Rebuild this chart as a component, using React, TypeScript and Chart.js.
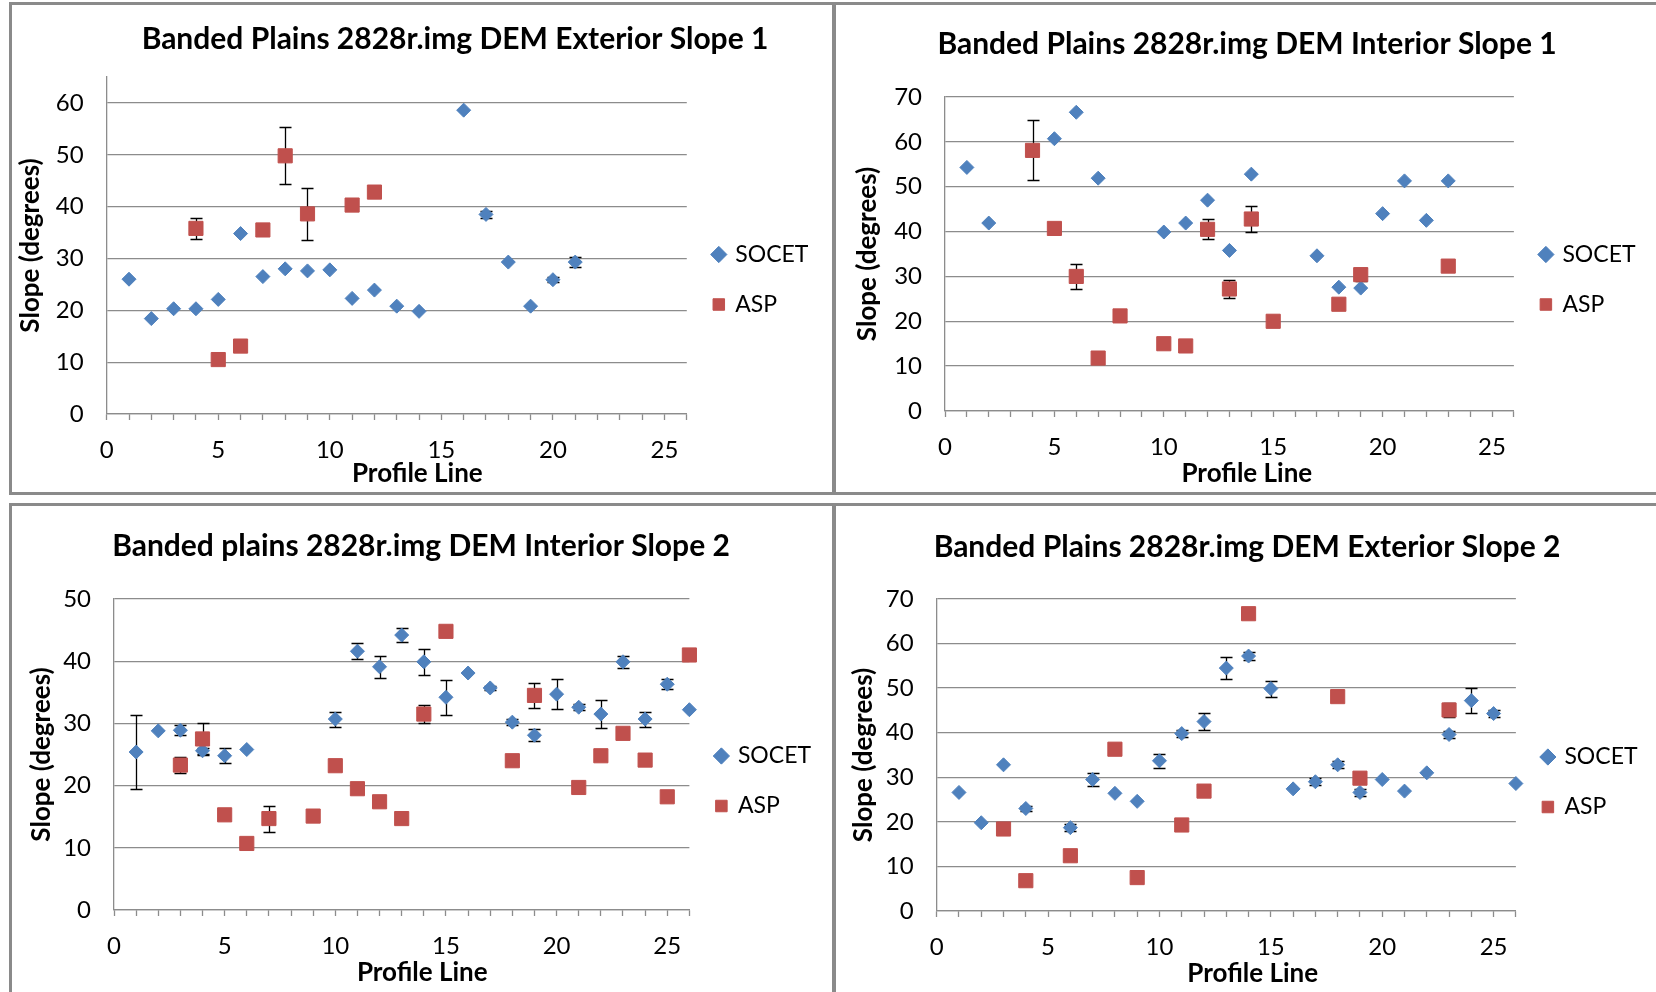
import React, { useEffect, useRef } from 'react';
import { Chart, registerables } from 'chart.js';

Chart.register(...registerables);

// ---------- DATA ----------
// Panel 1: Banded Plains 2828r.img DEM Exterior Slope 1
const ext1SocetLines = [1, 2, 3, 4, 5, 6, 7, 8, 9, 10, 11, 12, 13, 14, 16, 17, 18, 19, 20, 21];
const ext1SocetSlope = [26.0, 18.4, 20.3, 20.3, 22.1, 34.8, 26.5, 28.0, 27.6, 27.8, 22.3, 23.9, 20.8, 19.8, 58.6, 38.5, 29.3, 20.8, 25.9, 29.3];
const ext1SocetError = [0, 0, 0, 0, 0, 0, 0, 0, 0, 0, 0, 0, 0, 0, 0, 0.7, 0, 0, 0.5, 1.0];
const ext1AspLines = [4, 5, 6, 7, 8, 9, 11, 12];
const ext1AspSlope = [35.8, 10.5, 13.1, 35.5, 49.8, 38.6, 40.3, 42.8];
const ext1AspError = [2.1, 0, 0, 0, 5.5, 5.0, 0, 0];

// Panel 2: Banded Plains 2828r.img DEM Interior Slope 1
const int1SocetLines = [1, 2, 5, 6, 7, 10, 11, 12, 13, 14, 17, 18, 19, 20, 21, 22, 23];
const int1SocetSlope = [54.3, 41.9, 60.7, 66.6, 51.9, 39.9, 41.9, 47.0, 35.8, 52.8, 34.6, 27.6, 27.4, 44.0, 51.3, 42.5, 51.3];
const int1SocetError = [0, 0, 0, 0, 0, 0, 0, 0, 0, 0, 0, 0, 0, 0, 0, 0, 0];
const int1AspLines = [4, 5, 6, 7, 8, 10, 11, 12, 13, 14, 15, 18, 19, 23];
const int1AspSlope = [58.1, 40.7, 30.0, 11.8, 21.2, 15.0, 14.5, 40.5, 27.2, 42.8, 20.0, 23.8, 30.4, 32.3];
const int1AspError = [6.7, 0, 2.8, 0, 0, 0, 0, 2.2, 2.0, 2.9, 0, 0, 1.4, 0];

// Panel 3: Banded plains 2828r.img DEM Interior Slope 2
const int2SocetLines = [1, 2, 3, 4, 5, 6, 10, 11, 12, 13, 14, 15, 16, 17, 18, 19, 20, 21, 22, 23, 24, 25, 26];
const int2SocetSlope = [25.4, 28.8, 28.9, 25.6, 24.8, 25.8, 30.7, 41.6, 39.1, 44.2, 39.9, 34.2, 38.1, 35.7, 30.2, 28.1, 34.7, 32.6, 31.5, 39.9, 30.7, 36.3, 32.2];
const int2SocetError = [6.0, 0, 0.8, 0.5, 1.2, 0, 1.2, 1.3, 1.8, 1.1, 2.1, 2.8, 0, 0.3, 0.5, 1.0, 2.4, 0.5, 2.2, 1.0, 1.2, 0.8, 0];
const int2AspLines = [3, 4, 5, 6, 7, 9, 10, 11, 12, 13, 14, 15, 18, 19, 21, 22, 23, 24, 25, 26];
const int2AspSlope = [23.3, 27.5, 15.3, 10.7, 14.7, 15.1, 23.2, 19.5, 17.4, 14.7, 31.5, 44.8, 24.0, 34.5, 19.7, 24.8, 28.4, 24.1, 18.2, 41.0];
const int2AspError = [1.3, 2.5, 0, 0, 2.1, 0, 0, 0, 0, 0, 1.4, 0, 0, 2.0, 0, 0, 0, 0, 0, 0];

// Panel 4: Banded Plains 2828r.img DEM Exterior Slope 2
const ext2SocetLines = [1, 2, 3, 4, 6, 7, 8, 9, 10, 11, 12, 13, 14, 15, 16, 17, 18, 19, 20, 21, 22, 23, 24, 25, 26];
const ext2SocetSlope = [26.6, 19.8, 32.8, 23.0, 18.7, 29.5, 26.4, 24.6, 33.7, 39.8, 42.5, 54.5, 57.2, 49.9, 27.4, 29.0, 32.8, 26.6, 29.5, 26.9, 31.0, 39.6, 47.2, 44.3, 28.6];
const ext2SocetError = [0, 0, 0, 0.5, 0.8, 1.5, 0, 0, 1.6, 0.7, 1.9, 2.4, 0.8, 1.8, 0, 0.8, 0.8, 0.8, 0, 0, 0, 0.7, 2.8, 0.7, 0];
const ext2AspLines = [3, 4, 6, 8, 9, 11, 12, 14, 18, 19, 23];
const ext2AspSlope = [18.4, 6.8, 12.4, 36.3, 7.5, 19.3, 26.9, 66.7, 48.1, 29.8, 45.1];
const ext2AspError = [0, 0, 0, 0, 0, 0, 0, 0, 0, 0, 1.5];

const seriesNames = ['SOCET', 'ASP'];
const xAxisTitle = 'Profile Line';
const yAxisTitle = 'Slope (degrees)';
const yTickStep = 10;
const xTickLabelStep = 5;

// ---------- STYLE ----------
const FONT = "Lato, 'Open Sans', sans-serif";
const GRID = '#8c8c8c';
const SOCET_COLOR = '#4F81BD';
const ASP_COLOR = '#C0504D';
const BORDER = '#8a8a8a';
const X_TITLE_BOX = 24;

const errorBarPlugin = {
  id: 'errorBars',
  beforeDatasetsDraw(chart: any) {
    const { ctx } = chart;
    const xs = chart.scales.x;
    const ys = chart.scales.y;
    ctx.save();
    ctx.strokeStyle = '#000';
    ctx.lineWidth = 1.3;
    chart.data.datasets.forEach((ds: any) => {
      const errs: number[] = ds.errorBars;
      if (!errs) return;
      ds.data.forEach((pt: any, j: number) => {
        const e = errs[j];
        if (!e) return;
        const px = Math.round(xs.getPixelForValue(pt.x)) + 0.5;
        const top = Math.round(ys.getPixelForValue(pt.y + e)) + 0.5;
        const bot = Math.round(ys.getPixelForValue(pt.y - e)) + 0.5;
        ctx.beginPath();
        ctx.moveTo(px, top);
        ctx.lineTo(px, bot);
        ctx.moveTo(px - 6, top);
        ctx.lineTo(px + 6, top);
        ctx.moveTo(px - 6, bot);
        ctx.lineTo(px + 6, bot);
        ctx.stroke();
      });
    });
    ctx.restore();
  },
};

// shifts the box that carries the x-axis title sideways, as in the original layout
const titleShiftPlugin = {
  id: 'titleShift',
  afterLayout(chart: any, _args: any, opts: any) {
    const s = chart.scales.xt;
    if (!s || !opts || !opts.dx) return;
    s.left += opts.dx;
    s.right += opts.dx;
  },
};

type PanelDef = {
  title: string;
  yMax: number;
  socetX: number[];
  socetY: number[];
  socetE: number[];
  aspX: number[];
  aspY: number[];
  aspE: number[];
  box: { left: number; top: number; width: number; height: number };
  cw: number;
  ch: number;
  padL: number;
  padR: number;
  spacerW: number;
  titlePad: { top: number; bottom: number };
  yWidth: number;
  yTitlePad: number;
  xHeight: number;
  xTitlePad: number;
  xTitleDx: number;
  legendTitleH: number;
};

const panels: PanelDef[] = [
  {
    title: 'Banded Plains 2828r.img DEM Exterior Slope 1',
    yMax: 65,
    socetX: ext1SocetLines, socetY: ext1SocetSlope, socetE: ext1SocetError,
    aspX: ext1AspLines, aspY: ext1AspSlope, aspE: ext1AspError,
    box: { left: 9, top: 2, width: 826, height: 493 },
    cw: 820, ch: 487,
    padL: 7, padR: -59, spacerW: 72.6,
    titlePad: { top: 16, bottom: 20 },
    yWidth: 87.7, yTitlePad: -3.6,
    xHeight: 78, xTitlePad: 3, xTitleDx: 20.6,
    legendTitleH: 62,
  },
  {
    title: 'Banded Plains 2828r.img DEM Interior Slope 1',
    yMax: 70,
    socetX: int1SocetLines, socetY: int1SocetSlope, socetE: int1SocetError,
    aspX: int1AspLines, aspY: int1AspSlope, aspE: int1AspError,
    box: { left: 833, top: 2, width: 830, height: 493 },
    cw: 820, ch: 487,
    padL: 12.5, padR: 10.5, spacerW: 0,
    titlePad: { top: 21, bottom: 35 },
    yWidth: 96.5, yTitlePad: 3.9,
    xHeight: 81, xTitlePad: 2.4, xTitleDx: 17.4,
    legendTitleH: 62,
  },
  {
    title: 'Banded plains 2828r.img DEM Interior Slope 2',
    yMax: 50,
    socetX: int2SocetLines, socetY: int2SocetSlope, socetE: int2SocetError,
    aspX: int2AspLines, aspY: int2AspSlope, aspE: int2AspError,
    box: { left: 9, top: 503, width: 826, height: 495 },
    cw: 820, ch: 486,
    padL: 9, padR: 11, spacerW: 0,
    titlePad: { top: 22, bottom: 35 },
    yWidth: 93, yTitlePad: 5.4,
    xHeight: 82, xTitlePad: 3.5, xTitleDx: 20.6,
    legendTitleH: 64,
  },
  {
    title: 'Banded Plains 2828r.img DEM Exterior Slope 2',
    yMax: 70,
    socetX: ext2SocetLines, socetY: ext2SocetSlope, socetE: ext2SocetError,
    aspX: ext2AspLines, aspY: ext2AspSlope, aspE: ext2AspError,
    box: { left: 833, top: 503, width: 830, height: 495 },
    cw: 820, ch: 486,
    padL: 10.5, padR: 8.5, spacerW: 0,
    titlePad: { top: 23, bottom: 34 },
    yWidth: 90.2, yTitlePad: 1.9,
    xHeight: 81, xTitlePad: 2.5, xTitleDx: 26.4,
    legendTitleH: 66,
  },
];

function ChartPanel({ p }: { p: PanelDef }) {
  const ref = useRef<HTMLCanvasElement | null>(null);
  useEffect(() => {
    if (!ref.current) return;
    const scales: any = {
      x: {
        type: 'linear',
        min: 0,
        max: 26,
        afterFit: (s: any) => { s.height = p.xHeight - X_TITLE_BOX; },
        ticks: {
          stepSize: 1,
          autoSkip: false,
          maxRotation: 0,
          minRotation: 0,
          padding: 16,
          color: '#000',
          font: { family: FONT, size: 24 },
          callback: (v: any) => (Number(v) % xTickLabelStep === 0 ? String(v) : ''),
        },
        grid: { drawOnChartArea: false, drawTicks: true, tickLength: 6, tickColor: GRID, tickWidth: 1.3 },
        border: { display: true, color: GRID, width: 1.3 },
      },
      xt: {
        type: 'linear',
        position: 'bottom',
        weight: 1,
        display: true,
        afterFit: (s: any) => { s.height = X_TITLE_BOX; },
        ticks: { display: false },
        grid: { display: false },
        border: { display: false },
        title: {
          display: true,
          text: xAxisTitle,
          color: '#000',
          font: { family: FONT, size: 26, weight: 'bold' },
          padding: { top: 0, bottom: p.xTitlePad },
        },
      },
      y: {
        type: 'linear',
        min: 0,
        max: p.yMax,
        afterFit: (s: any) => { s.width = p.yWidth; },
        afterBuildTicks: (s: any) => {
          const t: any[] = [];
          for (let v = 0; v <= s.max + 1e-9; v += yTickStep) t.push({ value: v });
          s.ticks = t;
        },
        ticks: {
          padding: 23,
          color: '#000',
          font: { family: FONT, size: 24 },
        },
        grid: { color: GRID, lineWidth: 1.3, drawTicks: false },
        border: { display: true, color: GRID, width: 1.3 },
        title: {
          display: true,
          text: yAxisTitle,
          color: '#000',
          font: { family: FONT, size: 26, weight: 'bold' },
          padding: { top: p.yTitlePad, bottom: 0 },
        },
      },
    };
    if (p.spacerW > 0) {
      scales.spacer = {
        type: 'linear',
        position: 'right',
        weight: 2000,
        display: true,
        afterFit: (s: any) => { s.width = p.spacerW; },
        ticks: { display: false },
        grid: { display: false },
        border: { display: false },
      };
    }
    const chart = new Chart(ref.current, {
      type: 'scatter',
      data: {
        datasets: [
          {
            label: seriesNames[0],
            data: p.socetX.map((x, i) => ({ x, y: p.socetY[i] })),
            errorBars: p.socetE,
            backgroundColor: SOCET_COLOR,
            borderColor: SOCET_COLOR,
            borderWidth: 1,
            pointStyle: 'rectRot',
            pointRadius: 7,
            pointHoverRadius: 7,
            order: 1,
            clip: false,
          } as any,
          {
            label: seriesNames[1],
            data: p.aspX.map((x, i) => ({ x, y: p.aspY[i] })),
            errorBars: p.aspE,
            backgroundColor: ASP_COLOR,
            borderColor: ASP_COLOR,
            borderWidth: 1,
            pointStyle: 'rect',
            pointRadius: 10,
            pointHoverRadius: 10,
            order: 0,
            clip: false,
          } as any,
        ],
      },
      options: {
        animation: false,
        responsive: false,
        devicePixelRatio: 1,
        events: [],
        layout: { padding: { left: p.padL, right: p.padR, top: 0, bottom: 0 } },
        plugins: {
          titleShift: { dx: p.xTitleDx },
          title: {
            display: true,
            text: p.title,
            color: '#000',
            font: { family: FONT, size: 30, weight: 'bold' },
            padding: p.titlePad,
          },
          legend: {
            display: true,
            position: 'right',
            align: 'center',
            title: { display: true, text: '', font: { size: 10 }, padding: { top: p.legendTitleH - 12, bottom: 0 } },
            labels: {
              usePointStyle: true,
              boxWidth: 10,
              boxHeight: 11.5,
              padding: 27,
              color: '#000',
              font: { family: FONT, size: 23 },
              sort: (a: any, b: any) => a.datasetIndex - b.datasetIndex,
            },
          },
          tooltip: { enabled: false },
        },
        scales,
      } as any,
      plugins: [errorBarPlugin, titleShiftPlugin],
    });
    return () => chart.destroy();
  }, [p]);

  return (
    <div
      style={{
        position: 'absolute',
        left: p.box.left,
        top: p.box.top,
        width: p.box.width,
        height: p.box.height,
        border: `3px solid ${BORDER}`,
        boxSizing: 'border-box',
        overflow: 'hidden',
        background: '#fff',
      }}
    >
      <canvas
        ref={ref}
        width={p.cw}
        height={p.ch}
        style={{ position: 'absolute', left: 0, top: 0, width: p.cw, height: p.ch }}
      />
    </div>
  );
}

export default function App() {
  return (
    <div
      style={{
        position: 'fixed',
        left: 0,
        top: 0,
        width: 1656,
        height: 992,
        overflow: 'hidden',
        background: '#fff',
      }}
    >
      {panels.map((p, i) => (
        <ChartPanel key={i} p={p} />
      ))}
    </div>
  );
}
